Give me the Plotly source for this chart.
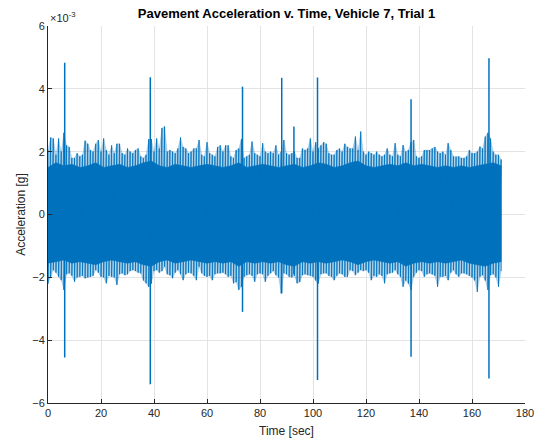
import plotly.graph_objects as go

# ---- data (values in units of 1e-3 g) ----
time_s = list(range(0, 172))
upper_env = [2.05, 2.45, 2.42, 1.9, 2.42, 2.0, 2.6, 2.2, 2.15, 1.8,
             1.8, 1.95, 1.85, 1.9, 2.35, 2.25, 2.05, 2.0, 2.25, 2.37,
             2.0, 2.42, 2.05, 1.9, 2.2, 1.95, 2.25, 2.25, 1.95, 1.9,
             2.1, 2.0, 1.95, 2.05, 2.1, 1.85, 1.8, 1.9, 2.4, 2.4,
             2.0, 2.42, 2.1, 2.75, 2.8, 2.0, 2.05, 2.0, 1.95, 2.1,
             2.45, 2.15, 2.1, 1.95, 2.0, 2.1, 2.1, 2.37, 1.9, 1.85,
             2.3, 1.95, 1.9, 1.85, 2.15, 2.2, 2.0, 2.2, 2.2, 1.85,
             1.8, 2.05, 2.1, 2.4, 1.8, 1.85, 1.9, 2.32, 1.95, 1.9,
             1.85, 2.27, 2.0, 1.95, 2.0, 1.95, 2.2, 1.9, 2.0, 2.37,
             1.95, 1.9, 1.95, 2.0, 1.8, 1.8, 2.1, 2.05, 2.1, 2.42,
             2.0, 2.3, 2.1, 2.2, 2.3, 2.25, 1.95, 1.9, 1.9, 2.05,
             2.1, 2.0, 2.25, 2.15, 2.1, 2.1, 2.48, 2.05, 2.64, 2.0,
             1.9, 2.0, 1.95, 1.9, 2.0, 1.9, 1.85, 1.9, 2.1, 1.9,
             1.85, 2.27, 1.9, 1.85, 2.21, 2.0, 2.05, 2.3, 2.37, 1.85,
             1.8, 1.85, 2.05, 2.05, 2.05, 2.1, 2.15, 2.0, 1.95, 2.0,
             1.9, 2.27, 2.05, 1.85, 1.84, 1.85, 1.8, 1.8, 1.85, 2.05,
             1.95, 1.95, 2.0, 2.16, 2.1, 2.48, 2.6, 2.42, 2.0, 1.9,
             1.9, 1.75]
lower_env = [-2.2, -2.0, -1.77, -1.85, -1.98, -2.09, -2.4, -1.9, -1.87, -1.95,
             -2.14, -2.0, -1.98, -1.95, -2.03, -2.0, -1.98, -1.95, -1.77, -1.85,
             -1.98, -2.0, -2.19, -1.95, -1.98, -2.0, -2.24, -1.9, -1.87, -1.93,
             -1.9, -1.8, -1.77, -1.8, -1.85, -1.87, -2.1, -2.19, -2.3, -2.2,
             -1.8, -1.77, -1.85, -1.8, -1.66, -1.9, -1.93, -2.03, -1.85, -1.77,
             -1.9, -2.09, -1.9, -1.85, -1.87, -1.95, -2.09, -1.66, -1.87, -1.95,
             -1.98, -1.95, -2.09, -1.9, -1.87, -1.87, -1.85, -1.9, -1.98, -1.95,
             -2.19, -2.15, -2.4, -2.3, -1.98, -1.93, -1.9, -1.95, -2.14, -1.9,
             -1.87, -1.9, -2.14, -1.95, -1.87, -1.8, -1.93, -2.0, -2.51, -1.87,
             -1.9, -1.98, -2.0, -1.95, -2.19, -2.15, -1.93, -1.9, -1.93, -1.95,
             -1.98, -2.1, -2.2, -1.9, -1.87, -1.87, -1.95, -1.98, -2.09, -1.95,
             -1.87, -1.9, -1.98, -1.98, -1.77, -1.8, -1.93, -1.85, -1.77, -1.8,
             -1.77, -1.85, -2.09, -1.95, -1.98, -1.9, -1.95, -2.19, -1.9, -1.87,
             -1.85, -1.77, -1.9, -1.98, -2.3, -2.1, -2.2, -2.4, -1.98, -1.85,
             -1.77, -1.8, -1.98, -1.9, -1.87, -1.9, -1.95, -2.3, -1.98, -1.98,
             -1.95, -2.09, -1.85, -1.77, -1.9, -1.98, -1.87, -1.87, -1.9, -1.95,
             -2.0, -2.1, -2.46, -1.98, -1.93, -2.1, -2.4, -1.93, -1.9, -2.0,
             -2.3, -1.8]

core_time = list(range(0, 172, 3)) + [171]
core_upper = [1.5, 1.65, 1.55, 1.6, 1.5, 1.55, 1.65, 1.5, 1.55, 1.6,
              1.5, 1.55, 1.65, 1.7, 1.55, 1.5, 1.6, 1.55, 1.5, 1.55,
              1.6, 1.55, 1.5, 1.55, 1.65, 1.5, 1.55, 1.6, 1.55, 1.5,
              1.55, 1.6, 1.5, 1.55, 1.65, 1.6, 1.5, 1.55, 1.65, 1.7,
              1.55, 1.5, 1.55, 1.6, 1.55, 1.65, 1.55, 1.6, 1.55, 1.5,
              1.55, 1.5, 1.55, 1.5, 1.55, 1.6, 1.65, 1.55, 1.5]
core_lower = [-1.55, -1.5, -1.45, -1.55, -1.5, -1.55, -1.6, -1.5, -1.45, -1.5,
              -1.55, -1.5, -1.6, -1.65, -1.5, -1.45, -1.55, -1.5, -1.45, -1.5,
              -1.55, -1.5, -1.55, -1.5, -1.65, -1.5, -1.55, -1.5, -1.55, -1.5,
              -1.6, -1.65, -1.5, -1.55, -1.5, -1.55, -1.5, -1.45, -1.5, -1.6,
              -1.5, -1.45, -1.5, -1.55, -1.5, -1.65, -1.55, -1.5, -1.55, -1.5,
              -1.55, -1.5, -1.45, -1.55, -1.6, -1.65, -1.55, -1.5, -1.5]

spike_time = [6.3, 38.6, 73.4, 88.2, 92.8, 101.7, 137.0, 166.4]
spike_max = [4.83, 4.37, 4.07, 4.35, 2.8, 4.36, 3.67, 4.97]
spike_min = [-4.55, -5.4, -3.1, -2.51, -1.9, -5.27, -4.53, -5.22]

x_ticks = [0, 20, 40, 60, 80, 100, 120, 140, 160, 180]
y_ticks = [-6, -4, -2, 0, 2, 4, 6]

BLUE = "rgb(0,114,189)"
FONT = "Liberation Sans, Arial, Helvetica, sans-serif"

fig = go.Figure()

# light fringe: envelope polygon
fig.add_trace(go.Scatter(
    x=time_s + time_s[::-1],
    y=upper_env + lower_env[::-1],
    fill="toself", fillcolor="rgba(0,114,189,0.3)", mode="lines",
    line=dict(color="rgba(0,114,189,0.3)", width=0.5),
    hoverinfo="skip", showlegend=False))

# solid core band
fig.add_trace(go.Scatter(
    x=core_time + core_time[::-1],
    y=core_upper + core_lower[::-1],
    fill="toself", fillcolor=BLUE, mode="lines",
    line=dict(color=BLUE, width=0.5), hoverinfo="skip", showlegend=False))

# zig-zag texture of the dense signal
zx, zy = [], []
for t, u, l in zip(time_s, upper_env, lower_env):
    zx += [t, t]
    zy += [u, l]
fig.add_trace(go.Scatter(
    x=zx, y=zy, mode="lines",
    line=dict(color="rgba(0,114,189,0.8)", width=1),
    hoverinfo="skip", showlegend=False))

# isolated spikes
sx, sy = [], []
for t, mx, mn in zip(spike_time, spike_max, spike_min):
    sx += [t, t, None]
    sy += [mx, mn, None]
fig.add_trace(go.Scatter(
    x=sx, y=sy, mode="lines", line=dict(color=BLUE, width=1.5),
    hoverinfo="skip", showlegend=False, connectgaps=False))

axis_common = dict(
    showgrid=True, gridcolor="#e3e3e3", gridwidth=1,
    zeroline=False, showline=True, linecolor="#262626", linewidth=1,
    ticks="inside", ticklen=4, tickcolor="#262626",
    tickfont=dict(family=FONT, size=11, color="#262626"),
    mirror=False, automargin=False,
)

fig.update_layout(
    width=537, height=441,
    margin=dict(l=48, r=12, t=26, b=38),
    paper_bgcolor="white", plot_bgcolor="white",
    title=dict(text="<b>Pavement Acceleration v. Time, Vehicle 7, Trial 1</b>",
               x=0.5, xanchor="center", xref="paper", y=1 - 13 / 441, yanchor="middle",
               font=dict(family=FONT, size=13, color="black")),
    xaxis=dict(range=[0, 180], tickvals=x_ticks,
               title=dict(text="Time [sec]", font=dict(family=FONT, size=12, color="#262626"),
                          standoff=8),
               **axis_common),
    yaxis=dict(range=[-6, 6], tickvals=y_ticks,
               title=dict(text="Acceleration [g]", font=dict(family=FONT, size=12, color="#262626"),
                          standoff=4),
               **axis_common),
    annotations=[dict(text="×10<sup>-3</sup>", xref="paper", yref="paper",
                      x=0, y=1, xanchor="left", yanchor="bottom", showarrow=False,
                      font=dict(family=FONT, size=11, color="#262626"))],
)

fig.write_html("out.html", config={"displayModeBar": False},
               post_script="document.body.style.margin='0';document.body.style.padding='0';")
